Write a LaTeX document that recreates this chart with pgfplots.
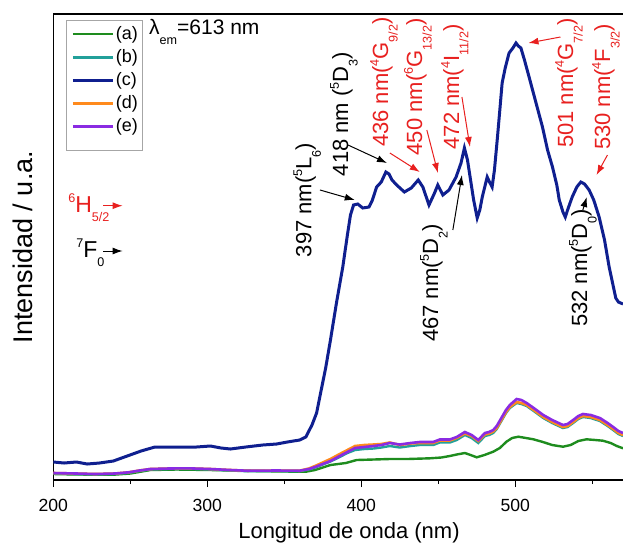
\documentclass[border=0pt]{standalone}
\usepackage{fontspec}
\setmainfont{Liberation Sans}
\usepackage{pgfplots}
\pgfplotsset{compat=1.18}
\usetikzlibrary{arrows.meta, calc}

\definecolor{cA}{HTML}{1E8C1E}
\definecolor{cB}{HTML}{22A09A}
\definecolor{cC}{HTML}{0F1F8F}
\definecolor{cD}{HTML}{FF8A1C}
\definecolor{cE}{HTML}{8A2BE2}
\definecolor{lred}{HTML}{E8201F}

% Origin-like scripts: small, set well above / below the baseline
\newcommand{\up}[1]{\raisebox{0.42em}{\fontsize{6.3}{6.3}\selectfont #1}}
\newcommand{\dn}[1]{\raisebox{-0.43em}{\fontsize{6.3}{6.3}\selectfont #1}}

% y values (arbitrary units)
\pgfplotstableread{
x y
200 6
215 5.5
239 5.3
250 6.5
263 10
280 10.5
302 10
330 9
350 8.5
364 8.3
370 10
380 15
390 17
397 20
408 20.5
418.6 21
430 21
444.6 21.7
452 22.5
457.5 24
462 25.5
467.3 27
471 25
475 22.7
480 25
485.7 28.3
490 32
494.3 38.3
498 42
502 43.3
507 42
511.8 40.7
518 38
524 35
531 33.3
536 35
541 39
546.3 40.7
552 40
557 39.3
562 37
566 34
570 31.7
}\dataA

\pgfplotstableread{
x y
200 6.5
215 6
227 5.5
240 6
249 7.2
256 9
263 10.5
275 11
287 11.2
302 10.5
315 9.5
326 8.8
345 9
360 8.8
366 10.5
370 12.5
375 15.5
380 18.5
386 23
391 27
396 30
402 31
408 31.5
413 32.5
418.6 34
425 32.5
432 34
438 35
446.7 35
451 37.5
457.5 37.5
462 40
467.3 45
471.7 42
476 37
480.3 44
483 45
485.7 47
488 51
491 59
494 67
496.5 72
500.9 77
504 76
507.4 74
512 69
518.2 62
524 57
531 52
534 53
537.6 57
541 61
544 63
549 62
555 59
560 54
563.6 50
567 46
570 44
}\dataB

\pgfplotstableread{
x y
200 18
207 17
215 18
222 16
230 17
239 19
248 24
257 29
266 33
275 33
283 33
293 33
302 34
309 32
315 31
325 33
336 35
345 36
352 38
360 40
364 43
368 55
371 67
374 90
377 113
380 140
384 178
388 213
391 245
393 265
395 275
397.7 276
401 272
405 273
407 279
410 293
413 298
416 308
418 306
420 300
423 295
428 288
432.5 292
437 300
440 293
444 275
447.6 287
449.7 295
453 285
457 290
461.6 303
464.8 317
467 332
469 320
471 300
473 280
475.3 262
477 270
478.6 283
481.8 303
483.3 298
485 293
486.5 310
488.3 340
490 370
491.5 397
493.5 412
496 427
498.5 432
500.5 437
502 434
503.7 432
506 420
509 403
513 380
517.7 353
521 330
524.2 313
527 295
528.6 280
531 268
532.5 263
534 270
537 283
540 293
542.6 298
545 296
548 290
551 280
554.5 263
558 240
561 213
563.5 195
565.3 182
567 178
570 176
}\dataC

\pgfplotstableread{
x y
200 7
215 6.5
227 6
240 6.5
249 7.7
256 9.5
263 11
275 11.5
287 11.7
302 11
315 10
326 9.3
345 9.5
360 9.3
366 11.5
370 14
375 17.5
380 21
386 26
391 30
396 34
402 35
408 35.5
413 36
418.6 37.5
425 35
432 36.5
438 37
446.7 37
451 39.5
457.5 39.5
462 42
467.3 46.5
471.7 44
476 39
480.3 45.5
483 46.5
485.7 48.5
488 52
491 60
494 68
496.5 73
500.9 78
504 77
507.4 75
512 70
518.2 63
524 58
531 53
534 54
537.6 58
541 62
544 64
549 63
555 60
560 55
563.6 51
567 47
570 45
}\dataD

\pgfplotstableread{
x y
200 7
215 6.5
227 6
240 6.5
249 7.7
256 9.5
263 11
275 11.5
287 11.7
302 11
315 10
326 9.3
345 9.5
360 9.3
366 11
370 13
375 16
380 19
386 24
391 28
396 32
402 33
408 34
413 35
418.6 37
425 35.5
432 37
438 38
446.7 38
451 40.5
457.5 40.5
462 43
467.3 48
471.7 45
476 40
480.3 47
483 48
485.7 50
488 54
491 62
494 70
496.5 75
500.9 81
504 80
507.4 77
512 72
518.2 65
524 60
531 55
534 56
537.6 60
541 64
544 66
549 65
555 62
560 57
563.6 53
567 49
570 47
}\dataE

\begin{document}
\begin{tikzpicture}[
  lbl/.style={rotate=90, font=\fontsize{11}{12}\selectfont, inner sep=0pt},
  arr/.style={-{Latex[length=5pt,width=3.5pt]}, line width=0.5pt}
]
\begin{axis}[
    name=ax,
    scale only axis,
    width=284.85pt,
    height=233pt,
    xmin=200, xmax=570,
    ymin=0, ymax=466,
    axis x line*=bottom,
    axis y line*=left,
    xtick={200,300,400,500},
    minor xtick={250,350,450,550},
    tick align=outside,
    major tick length=3.5pt,
    minor tick length=2pt,
    ytick=\empty,
    axis line style={line width=0.75pt},
    every tick/.style={line width=0.6pt, black},
    /pgf/number format/assume math mode=true,
    tick label style={font=\fontsize{8.8}{10}\selectfont},
    xticklabel style={yshift=-2.5pt},
    xlabel={Longitud de onda (nm)},
    ylabel={Intensidad / u.a.},
    xlabel style={font=\fontsize{11}{12}\selectfont, at={(axis description cs:0.519,-0.1245)}, anchor=base},
    ylabel style={font=\fontsize{13.5}{15}\selectfont, at={(axis description cs:-0.053,0.5)}, anchor=center},
    clip mode=individual,
    legend image code/.code={\draw[#1] (0pt,0pt) -- (20pt,0pt);},
    legend style={at={(axis description cs:0.031,0.978)}, anchor=north west,
        draw=none, fill=none, font=\fontsize{9}{9}\selectfont,
        row sep=1.9pt, inner sep=0pt, nodes={inner sep=0.8pt}},
    legend cell align=left,
]
\addplot[cA, line width=1.2pt] table {\dataA};
\addlegendentry{(a)}
\addplot[cB, line width=1.2pt] table {\dataB};
\addlegendentry{(b)}
\addplot[cC, line width=1.5pt] table {\dataC};
\addlegendentry{(c)}
\addplot[cD, line width=1.3pt] table {\dataD};
\addlegendentry{(d)}
\addplot[cE, line width=1.3pt] table {\dataE};
\addlegendentry{(e)}

% top frame line (right side is cut off in the original)
\draw[line width=0.75pt] (rel axis cs:0,1) -- (rel axis cs:1,1);

% legend frame
\draw[gray!70, line width=0.5pt] (axis description cs:0.024,0.985) rectangle (axis description cs:0.156,0.708);

% excitation wavelength
\node[anchor=base west, font=\fontsize{10.5}{12}\selectfont, inner sep=0pt] at (axis cs:262,445) {λ\dn{em}=613 nm};

% ground states
\node[anchor=base west, text=lred, font=\fontsize{11.5}{12}\selectfont, inner sep=0pt] at (axis cs:209.5,268) {\up{6}H\dn{5/2}};
\draw[arr, lred] (axis cs:232.5,274.3) -- (axis cs:245,274.3);
\node[anchor=base west, font=\fontsize{11.5}{12}\selectfont, inner sep=0pt] at (axis cs:214.7,223) {\up{7}F\dn{0}};
\draw[arr] (axis cs:232.5,229) -- (axis cs:245,229);

% transitions
\node[lbl] at (axis cs:364.9,280) {397 nm(\up{5}L\dn{6})};
\draw[arr] (axis cs:373.2,290) -- (axis cs:395.8,280);
\node[lbl] at (axis cs:388.8,366) {418 nm (\up{5}D\dn{3})};
\draw[arr] (axis cs:391.4,335) -- (axis cs:416.7,317);
\node[lbl, text=lred] at (axis cs:414.7,398) {436 nm(\up{4}G\dn{9/2})};
\draw[arr, lred] (axis cs:418.6,327) -- (axis cs:438,308);
\node[lbl, text=lred] at (axis cs:436.8,393) {450 nm(\up{6}G\dn{13/2})};
\draw[arr, lred] (axis cs:442.6,350) -- (axis cs:449.8,307);
\node[lbl, text=lred] at (axis cs:460.8,393) {472 nm(\up{4}I\dn{11/2})};
\draw[arr, lred] (axis cs:465.4,383) -- (axis cs:470.6,333);
\node[lbl] at (axis cs:447.2,197) {467 nm(\up{5}D\dn{2})};
\draw[arr] (axis cs:459.5,250) -- (axis cs:465.4,305);
\node[lbl, text=lred] at (axis cs:534.9,397) {501 nm(\up{4}G\dn{7/2})};
\draw[arr, lred] (axis cs:529.4,443) -- (axis cs:508.6,437);
\node[lbl, text=lred] at (axis cs:558.9,393) {530 nm(\up{4}F\dn{3/2})};
\draw[arr, lred] (axis cs:559.9,325) -- (axis cs:552.8,305);
\node[lbl] at (axis cs:544,212) {532 nm(\up{5}D\dn{0})};
\draw[arr] (axis cs:543.9,270) -- (axis cs:546.5,283);
\end{axis}
\pgfresetboundingbox
\path ($(ax.south west)+(-26.65pt,-31pt)$) rectangle ($(ax.north east)+(0pt,7pt)$);
\end{tikzpicture}
\end{document}
